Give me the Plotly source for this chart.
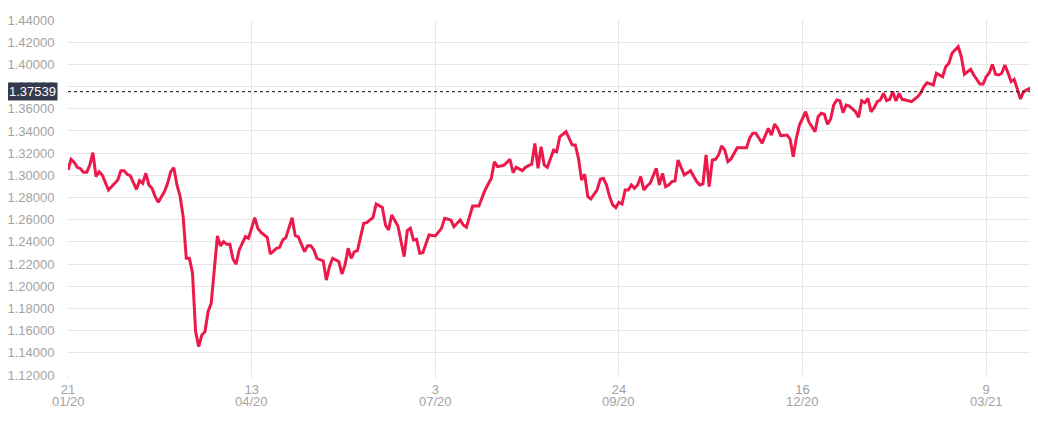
import pandas as pd
import plotly.graph_objects as go

# business-day offsets from 2020-01-21 at which the line turns
day_offsets = [
    0, 1, 2, 3, 4, 5, 6, 7, 8, 9, 10, 11, 13, 15, 16, 17, 18, 19, 20, 22,
    23, 24, 25, 26, 27, 28, 29, 31, 32, 33, 34, 35, 36, 37, 38, 39, 40, 41, 42, 43,
    44, 45, 46, 48, 49, 50, 51, 52, 53, 54, 55, 57, 58, 60, 61, 62, 64, 65, 67, 68,
    69, 70, 72, 73, 74, 76, 77, 78, 79, 80, 82, 83, 84, 85, 87, 88, 89, 90, 91, 92,
    93, 95, 96, 98, 99, 101, 102, 103, 104, 106, 108, 109, 110, 111, 112, 113, 114, 116, 118, 120,
    121, 123, 124, 126, 127, 128, 130, 132, 134, 136, 137, 138, 140, 142, 143, 144, 146, 147, 149, 150,
    151, 152, 153, 154, 156, 157, 158, 160, 162, 163, 164, 165, 166, 167, 168, 170, 171, 172, 173, 174,
    175, 176, 177, 178, 179, 180, 181, 182, 183, 184, 185, 186, 187, 189, 190, 191, 192, 193, 194, 195,
    196, 198, 200, 202, 203, 204, 205, 206, 207, 208, 209, 210, 211, 212, 213, 215, 216, 218, 219, 220,
    221, 223, 225, 226, 227, 228, 229, 231, 232, 233, 234, 235, 237, 238, 240, 241, 242, 243, 244, 245,
    246, 247, 248, 249, 250, 251, 253, 254, 255, 256, 257, 258, 259, 260, 261, 262, 263, 264, 265, 266,
    267, 268, 269, 271, 273, 274, 275, 276, 278, 279, 281, 282, 283, 284, 286, 287, 288, 290, 291, 293,
    294, 295, 296, 297, 298, 299, 300, 301, 302, 303, 304, 305, 306, 307, 309, 310, 311,
]

rates = [
    1.3048, 1.3144, 1.3117, 1.3072, 1.3060, 1.3027, 1.3027, 1.3093, 1.3204, 1.2988,
    1.3033, 1.3003, 1.2868, 1.2934, 1.2958, 1.3042, 1.3042, 1.3009, 1.2997, 1.2874,
    1.2952, 1.2928, 1.3018, 1.2913, 1.2883, 1.2808, 1.2757, 1.2853, 1.2928, 1.3033,
    1.3069, 1.2913, 1.2814, 1.2627, 1.2252, 1.2252, 1.2117, 1.1590, 1.1455, 1.1561,
    1.1590, 1.1771, 1.1846, 1.2453, 1.2363, 1.2402, 1.2378, 1.2378, 1.2246, 1.2198,
    1.2327, 1.2447, 1.2432, 1.2618, 1.2522, 1.2486, 1.2441, 1.2291, 1.2342, 1.2351,
    1.2417, 1.2438, 1.2618, 1.2456, 1.2445, 1.2312, 1.2366, 1.2366, 1.2327, 1.2252,
    1.2228, 1.2056, 1.2176, 1.2252, 1.2222, 1.2111, 1.2192, 1.2342, 1.2252, 1.2312,
    1.2321, 1.2567, 1.2573, 1.2621, 1.2741, 1.2711, 1.2552, 1.2507, 1.2642, 1.2543,
    1.2267, 1.2501, 1.2522, 1.2417, 1.2423, 1.2297, 1.2302, 1.2462, 1.2453, 1.2522,
    1.2612, 1.2597, 1.2537, 1.2597, 1.2552, 1.2531, 1.2723, 1.2723, 1.2868, 1.2973,
    1.3123, 1.3078, 1.3090, 1.3144, 1.3024, 1.3072, 1.3042, 1.3072, 1.3102, 1.3288,
    1.3063, 1.3258, 1.3093, 1.3072, 1.3228, 1.3213, 1.3348, 1.3393, 1.3273, 1.3273,
    1.3153, 1.2958, 1.3009, 1.2808, 1.2787, 1.2868, 1.2964, 1.2973, 1.2913, 1.2808,
    1.2733, 1.2708, 1.2757, 1.2741, 1.2868, 1.2868, 1.2913, 1.2883, 1.2913, 1.2988,
    1.2868, 1.2904, 1.2928, 1.3063, 1.2913, 1.3018, 1.2898, 1.2913, 1.2943, 1.2949,
    1.3138, 1.3003, 1.3042, 1.2943, 1.2913, 1.2922, 1.3183, 1.2898, 1.3138, 1.3144,
    1.3183, 1.3264, 1.3228, 1.3123, 1.3147, 1.3249, 1.3249, 1.3249, 1.3334, 1.3379,
    1.3379, 1.3289, 1.3424, 1.3363, 1.3460, 1.3424, 1.3357, 1.3363, 1.3327, 1.3168,
    1.3334, 1.3453, 1.3573, 1.3483, 1.3393, 1.3528, 1.3559, 1.3550, 1.3460, 1.3505,
    1.3634, 1.3679, 1.3673, 1.3565, 1.3634, 1.3625, 1.3573, 1.3523, 1.3673, 1.3655,
    1.3694, 1.3573, 1.3609, 1.3664, 1.3679, 1.3739, 1.3673, 1.3685, 1.3754, 1.3670,
    1.3739, 1.3685, 1.3679, 1.3664, 1.3709, 1.3745, 1.3799, 1.3835, 1.3814, 1.3920,
    1.3889, 1.3979, 1.4009, 1.4100, 1.4160, 1.4069, 1.3911, 1.3956, 1.3904, 1.3823,
    1.3823, 1.3889, 1.3925, 1.4000, 1.3911, 1.3904, 1.3920, 1.3994, 1.3925, 1.3844,
    1.3865, 1.3769, 1.3688, 1.3754, 1.3784, 1.3739, 1.37539,
]

current_rate = 1.37539
tick_offsets = [0, 59, 118, 177, 236, 295]
tick_days = ["21", "13", "3", "24", "16", "9"]
tick_months = ["01/20", "04/20", "07/20", "09/20", "12/20", "03/21"]
y_ticks = [1.12, 1.14, 1.16, 1.18, 1.20, 1.22, 1.24, 1.26, 1.28, 1.30,
           1.32, 1.34, 1.36, 1.38, 1.40, 1.42, 1.44]

business_days = pd.bdate_range("2020-01-21", periods=max(day_offsets) + 1)
x_dates = business_days[day_offsets]
tick_dates = business_days[tick_offsets]

FONT = "Liberation Sans, Arial, sans-serif"
GRAY = "#a3a3a3"
GRID = "#e6e6e6"

fig = go.Figure()
fig.add_trace(go.Scatter(
    x=x_dates, y=rates, mode="lines",
    line=dict(color="#ec1a4b", width=3),
    hoverinfo="x+y", showlegend=False,
))

fig.add_shape(type="line", xref="paper", yref="y", x0=0, x1=1,
              y0=current_rate, y1=current_rate,
              line=dict(color="#111111", width=1, dash="3px,3px"))

fig.add_annotation(xref="paper", yref="y", x=0, y=current_rate,
                   xanchor="right", yanchor="middle", xshift=-10,
                   text=f"{current_rate:.5f}", showarrow=False,
                   font=dict(family=FONT, size=13, color="#ffffff"),
                   bgcolor="#363a4e", borderpad=1)

for d, m in zip(tick_dates, tick_months):
    fig.add_annotation(xref="x", yref="paper", x=d, y=0, yshift=-26,
                       xanchor="center", yanchor="middle", text=m,
                       showarrow=False,
                       font=dict(family=FONT, size=13, color=GRAY))

fig.update_xaxes(
    range=[business_days[0], business_days[-1]],
    rangebreaks=[dict(bounds=["sat", "mon"])],
    tickmode="array", tickvals=tick_dates, ticktext=tick_days,
    showgrid=True, gridcolor=GRID, gridwidth=1,
    ticks="outside", ticklen=2, tickcolor=GRID,
    tickfont=dict(family=FONT, size=13, color=GRAY),
    showline=False, zeroline=False, automargin=False,
)
fig.update_yaxes(
    range=[1.12, 1.44],
    tickmode="array", tickvals=y_ticks,
    ticktext=[f"{v:.5f}" for v in y_ticks],
    showgrid=True, gridcolor=GRID, gridwidth=1,
    tickfont=dict(family=FONT, size=13, color=GRAY),
    ticks="outside", ticklen=10, tickcolor="rgba(0,0,0,0)",
    showline=False, zeroline=False, automargin=False,
)
# the page body adds an 8px offset, so margins are reduced on the left/top
fig.update_layout(
    width=1038, height=431,
    margin=dict(l=60, r=10, t=12, b=64),
    plot_bgcolor="#ffffff", paper_bgcolor="#ffffff",
    font=dict(family=FONT),
)

fig.write_html("out.html")
